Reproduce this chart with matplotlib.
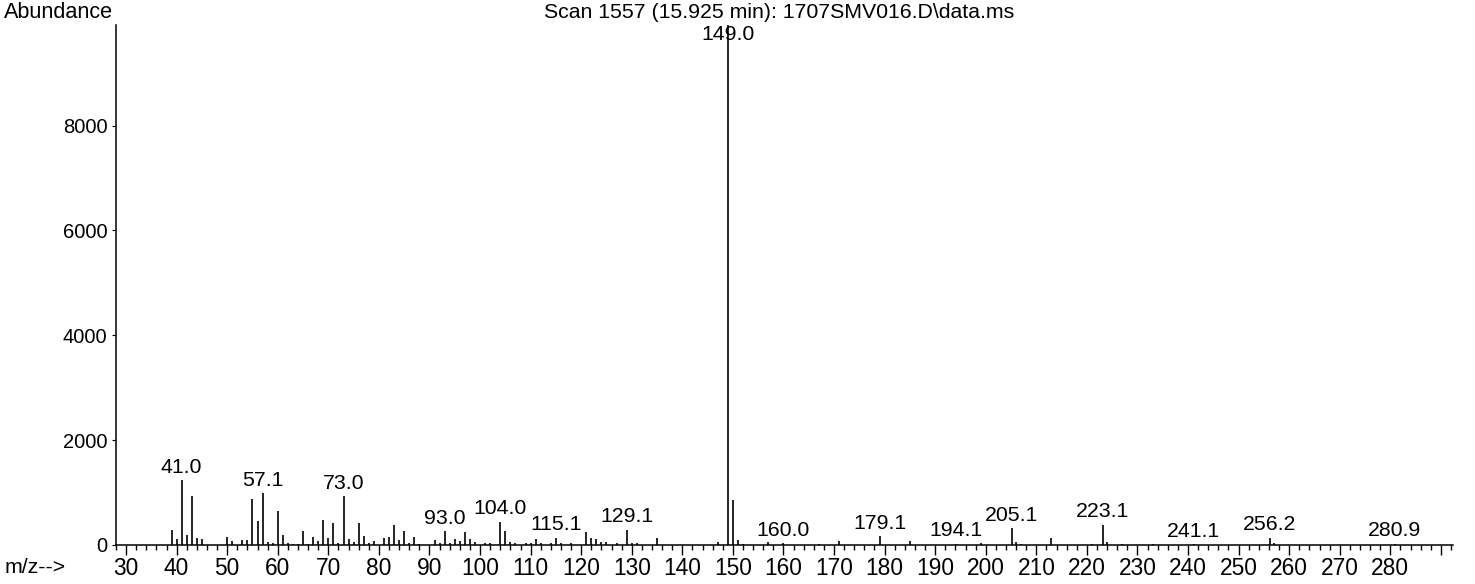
import matplotlib.pyplot as plt
from matplotlib.ticker import MultipleLocator

plt.rcParams['font.family'] = ['Liberation Sans', 'DejaVu Sans']
plt.rcParams['font.size'] = 15.3

title = 'Scan 1557 (15.925 min): 1707SMV016.D\\data.ms'

# m/z and abundance of each ion
mz = [39, 40, 41.0, 42, 43, 44, 45, 50, 51, 53, 54, 55, 56, 57.1, 58, 59,
      60, 61, 62, 63, 64, 65, 66, 67, 68, 69, 70, 71, 72, 73.0, 74, 75, 76,
      77, 78, 79, 81, 82, 83, 84, 85, 86, 87, 88, 91, 92, 93.0, 94, 95, 96,
      97, 98, 99, 101, 102, 104.0, 105, 106, 107, 109, 110, 111, 112, 114,
      115.1, 116, 118, 121, 122, 123, 124, 125, 127, 129.1, 130, 131, 135,
      147, 149.0, 150, 151, 152, 157, 160.0, 167, 171, 179.1, 185, 194.1,
      199, 205.1, 206, 207, 213, 221, 223.1, 224, 227, 233, 241.1, 256.2,
      257, 280.9]
abundance = [286, 108, 1234, 191, 941, 127, 108, 153, 76, 95, 95, 878, 458,
             992, 57, 38, 649, 184, 38, 19, 25, 273, 25, 146, 83, 483, 140,
             420, 38, 935, 114, 57, 420, 165, 38, 83, 140, 153, 382, 102, 261,
             38, 153, 25, 89, 30, 267, 38, 114, 76, 242, 108, 64, 45, 38, 445,
             267, 50, 45, 38, 45, 114, 38, 38, 134, 38, 38, 254, 127, 121, 57,
             57, 38, 293, 38, 38, 140, 64, 9920, 859, 95, 25, 51, 30, 20, 70,
             172, 70, 25, 38, 318, 51, 20, 134, 20, 388, 51, 19, 15, 15, 135,
             32, 20]

# ions that carry a m/z label
labelled = [41.0, 57.1, 73.0, 93.0, 104.0, 115.1, 129.1, 149.0, 160.0, 179.1,
            194.1, 205.1, 223.1, 241.1, 256.2, 280.9]

xticks = list(range(30, 300, 10))
xticklabels = [str(t) for t in range(30, 290, 10)] + ['']
yticks = [0, 2000, 4000, 6000, 8000]

fig = plt.figure(figsize=(14.75, 5.84), dpi=100)
ax = fig.add_axes([0.0786, 0.0668, 0.9065, 0.8904])

ax.vlines(mz, 0, abundance, colors='black', linewidth=1.2)

ytop = max(abundance)
ax.set_xlim(28.0, 292.4)
ax.set_ylim(0, ytop)

# labels sit just above their peak, but stay inside the plot
for m, a in zip(mz, abundance):
    if m in labelled:
        ax.annotate(f'{m:.1f}', (m, min(a, ytop - 420)), xytext=(0, 2.5),
                    textcoords='offset points', ha='center', va='bottom')

ax.spines['top'].set_visible(False)
ax.spines['right'].set_visible(False)
ax.spines['left'].set_linewidth(1.1)
ax.spines['bottom'].set_linewidth(1.1)

ax.set_xticks(xticks)
ax.set_xticklabels(xticklabels, fontsize=16.4)
ax.xaxis.set_minor_locator(MultipleLocator(2))
ax.tick_params(axis='x', which='major', length=7.5, width=1.0, pad=1.5)
ax.tick_params(axis='x', which='minor', length=3.8, width=1.0)
ax.set_yticks(yticks)
ax.set_yticklabels([str(t) for t in yticks], fontsize=14.5)
ax.tick_params(axis='y', length=3, width=0.8, pad=3)

fig.text(0.528, 0.979, title, ha='center', va='center')
fig.text(0.003, 0.979, 'Abundance', ha='left', va='center', fontsize=15.6)
fig.text(0.003, 0.028, 'm/z-->', ha='left', va='center')

fig.savefig('out.png', dpi=100)
